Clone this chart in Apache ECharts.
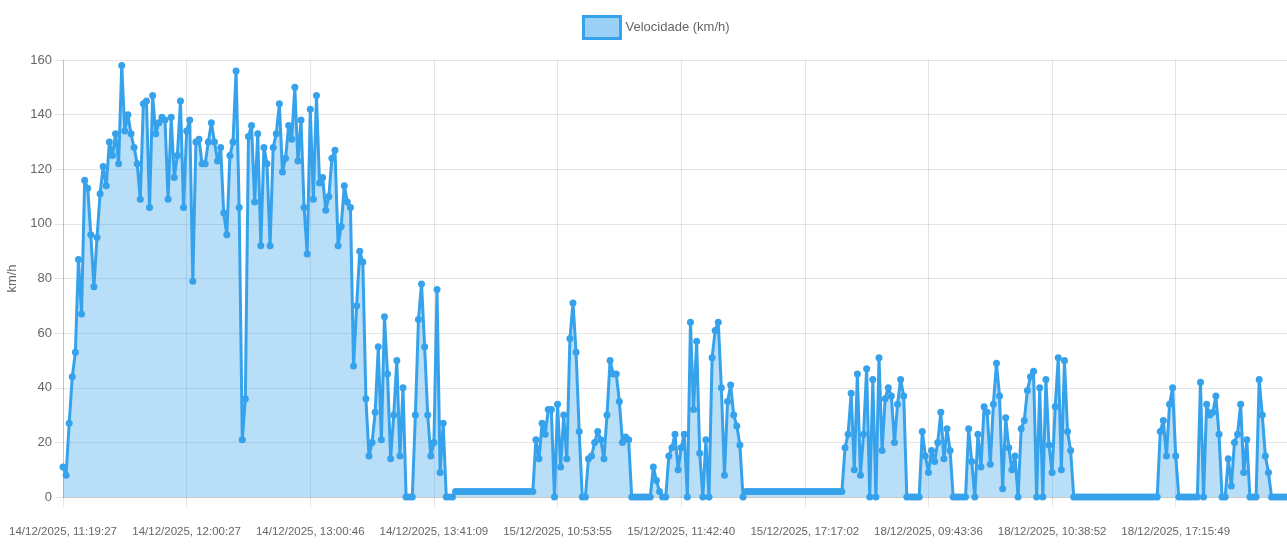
<!DOCTYPE html>
<html>
<head>
<meta charset="utf-8">
<script src="https://cdn.jsdelivr.net/npm/echarts@6/dist/echarts.min.js"></script>
<style>
html,body{margin:0;padding:0;background:#fff;}
#chart{width:1287px;height:545px;}
</style>
</head>
<body>
<div id="chart"></div>
<script>
const seriesName = "Velocidade (km/h)";
const yAxisName = "km/h";
const tickLabels = [
  "14/12/2025, 11:19:27", "14/12/2025, 12:00:27", "14/12/2025, 13:00:46",
  "14/12/2025, 13:41:09", "15/12/2025, 10:53:55", "15/12/2025, 11:42:40",
  "15/12/2025, 17:17:02", "18/12/2025, 09:43:36", "18/12/2025, 10:38:52",
  "18/12/2025, 17:15:49"
];
const labelEvery = 40;
const speeds = [
  11, 8, 27, 44, 53, 87, 67, 116, 113, 96,
  77, 95, 111, 121, 114, 130, 125, 133, 122, 158,
  134, 140, 133, 128, 122, 109, 144, 145, 106, 147,
  133, 137, 139, 138, 109, 139, 117, 125, 145, 106,
  134, 138, 79, 130, 131, 122, 122, 130, 137, 130,
  123, 128, 104, 96, 125, 130, 156, 106, 21, 36,
  132, 136, 108, 133, 92, 128, 122, 92, 128, 133,
  144, 119, 124, 136, 131, 150, 123, 138, 106, 89,
  142, 109, 147, 115, 117, 105, 110, 124, 127, 92,
  99, 114, 108, 106, 48, 70, 90, 86, 36, 15,
  20, 31, 55, 21, 66, 45, 14, 30, 50, 15,
  40, 0, 0, 0, 30, 65, 78, 55, 30, 15,
  20, 76, 9, 27, 0, 0, 0,
  2, 2, 2, 2, 2, 2, 2, 2, 2, 2, 2, 2, 2, 2, 2, 2, 2, 2, 2, 2, 2, 2, 2, 2, 2, 2,
  21, 14, 27, 23, 32, 32, 0,
  34, 11, 30, 14, 58, 71, 53, 24, 0, 0,
  14, 15, 20, 24, 21, 14, 30, 50, 45, 45,
  35, 20, 22, 21, 0, 0, 0, 0, 0, 0,
  0, 11, 6, 2, 0, 0, 15, 18, 23, 10,
  18, 23, 0, 64, 32, 57, 16, 0, 21, 0,
  51, 61, 64, 40, 8, 35, 41, 30, 26, 19,
  0,
  2, 2, 2, 2, 2, 2, 2, 2, 2, 2, 2, 2, 2, 2, 2, 2, 2, 2, 2, 2, 2, 2, 2, 2, 2, 2, 2, 2, 2, 2, 2, 2,
  18, 23, 38, 10, 45, 8, 23,
  47, 0, 43, 0, 51, 17, 36, 40, 37, 20,
  34, 43, 37, 0, 0, 0, 0, 0, 24, 15,
  9, 17, 13, 20, 31, 14, 25, 17, 0, 0,
  0, 0, 0, 25, 13, 0, 23, 11, 33, 31,
  12, 34, 49, 37, 3, 29, 18, 10, 15, 0,
  25, 28, 39, 44, 46, 0, 40, 0, 43, 19,
  9, 33, 51, 10, 50, 24, 17, 0, 0, 0,
  0, 0, 0, 0, 0, 0, 0, 0, 0, 0,
  0, 0, 0, 0, 0, 0, 0, 0, 0, 0,
  0, 0, 0, 0, 0, 24, 28, 15, 34, 40,
  15, 0, 0, 0, 0, 0, 0, 0, 42, 0,
  34, 30, 31, 37, 23, 0, 0, 14, 4, 20,
  23, 34, 9, 21, 0, 0, 0, 43, 30, 15,
  9, 0, 0, 0, 0, 0, 0
];

const FONT = "'Liberation Sans', Arial, sans-serif";
const chart = echarts.init(document.getElementById('chart'), null, {renderer: 'canvas'});
const points = speeds.map((v, i) => [i, v]);

chart.setOption({
  animation: false,
  backgroundColor: '#ffffff',
  textStyle: {fontFamily: FONT},
  legend: {
    top: 10,
    left: 577,
    itemWidth: 37,
    itemHeight: 22,
    itemGap: 10,
    icon: 'rect',
    data: [{
      name: seriesName,
      icon: 'rect',
      itemStyle: {color: 'rgba(54,162,235,0.5)', borderColor: '#36a2eb', borderWidth: 3}
    }],
    textStyle: {fontFamily: FONT, fontSize: 13, color: '#666'}
  },
  grid: {left: 63, right: 0, top: 60, bottom: 48, containLabel: false, outerBoundsMode: 'none'},
  xAxis: {
    type: 'value',
    min: 0,
    max: speeds.length - 1,
    interval: labelEvery,
    axisLine: {show: true, lineStyle: {color: 'rgba(0,0,0,0.12)', width: 1}},
    axisTick: {show: true, length: 10, lineStyle: {color: 'rgba(0,0,0,0.1)'}},
    splitLine: {show: true, lineStyle: {color: 'rgba(0,0,0,0.1)', width: 1}},
    axisLabel: {
      margin: 29,
      fontFamily: FONT,
      fontSize: 11.5,
      color: '#666',
      showMinLabel: true,
      showMaxLabel: false,
      hideOverlap: false,
      formatter: function (v) {
        if (v % labelEvery !== 0) return '';
        const k = v / labelEvery;
        return tickLabels[k] !== undefined ? tickLabels[k] : '';
      }
    }
  },
  yAxis: {
    type: 'value',
    min: 0,
    max: 160,
    interval: 20,
    name: yAxisName,
    nameLocation: 'middle',
    nameGap: 35,
    nameRotate: 90,
    nameTextStyle: {fontFamily: FONT, fontSize: 13, color: '#666'},
    axisLine: {show: true, lineStyle: {color: 'rgba(0,0,0,0.15)', width: 1}},
    axisTick: {show: true, length: 8, lineStyle: {color: 'rgba(0,0,0,0.1)'}},
    splitLine: {show: true, lineStyle: {color: 'rgba(0,0,0,0.1)', width: 1}},
    axisLabel: {margin: 11, fontFamily: FONT, fontSize: 13, color: '#666'}
  },
  series: [{
    name: seriesName,
    type: 'line',
    data: points,
    symbol: 'circle',
    symbolSize: 7,
    showAllSymbol: true,
    smooth: false,
    itemStyle: {color: '#36a2eb'},
    lineStyle: {color: '#36a2eb', width: 3},
    areaStyle: {color: 'rgba(54,162,235,0.5)', origin: 'start'}
  }]
});
</script>
</body>
</html>
